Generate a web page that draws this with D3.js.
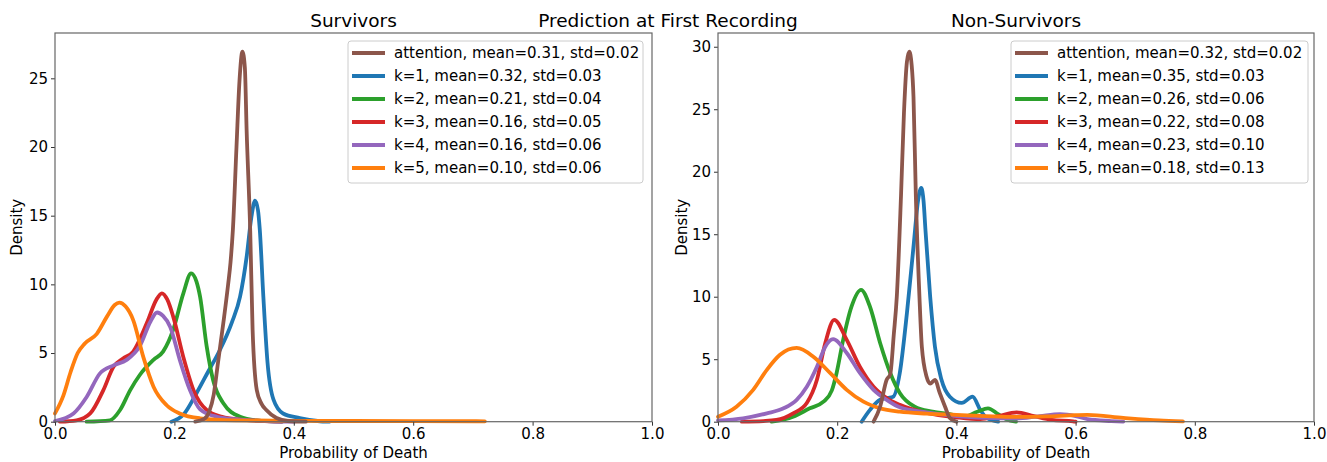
<!DOCTYPE html>
<html>
<head>
<meta charset="utf-8">
<script src="https://cdn.jsdelivr.net/npm/d3@7"></script>
<style>
  body { margin: 0; background: #fff; }
  svg text { font-family: "DejaVu Sans", sans-serif; fill: #000; }
</style>
</head>
<body>
<div id="chart"></div>
<script>
// 标题
var suptitle = "Prediction at First Recording";
var panelTitles = ["Survivors", "Non-Survivors"];
var xTicks = [0, 0.2, 0.4, 0.6, 0.8, 1.0];
var yTicksLeft = [0, 5, 10, 15, 20, 25];
var yTicksRight = [0, 5, 10, 15, 20, 25, 30];
var yMaxLeft = 28.3;
var yMaxRight = 31.1;

var seriesNames = ["attention", "k=1", "k=2", "k=3", "k=4", "k=5"];
var seriesColors = ["#8c564b", "#1f77b4", "#2ca02c", "#d62728", "#9467bd", "#ff7f0e"];
var survStats = [[0.31, 0.02], [0.32, 0.03], [0.21, 0.04], [0.16, 0.05], [0.16, 0.06], [0.10, 0.06]];
var nonSurvStats = [[0.32, 0.02], [0.35, 0.03], [0.26, 0.06], [0.22, 0.08], [0.23, 0.10], [0.18, 0.13]];

// Survivors density curves [x, density]
var survAttention = [[0.235,0],[0.25,0.2],[0.258,0.7],[0.266,2],[0.273,4.3],[0.282,7.2],[0.29,10],[0.294,11.6],[0.298,14],[0.304,20],[0.309,24.8],[0.314,26.95],[0.318,25.8],[0.321,21.2],[0.327,13.9],[0.331,6.7],[0.338,2.3],[0.346,1.3],[0.354,0.85],[0.371,0.27],[0.39,0.05],[0.42,0]];
var survK1 = [[0.195,0],[0.215,0.5],[0.237,2.07],[0.256,3.6],[0.276,5.2],[0.296,7.2],[0.31,9.1],[0.321,12],[0.329,14.9],[0.335,16.1],[0.34,15.4],[0.343,14],[0.349,9.1],[0.356,4.3],[0.366,1.6],[0.382,0.6],[0.41,0.27],[0.44,0.05],[0.46,0]];
var survK2 = [[0.053,0],[0.092,0.1],[0.109,0.85],[0.126,2.3],[0.142,3.4],[0.165,4.5],[0.181,5.1],[0.198,6.7],[0.215,9.35],[0.228,10.8],[0.237,10.2],[0.243,9.1],[0.254,5.5],[0.265,3.0],[0.282,1.34],[0.31,0.36],[0.337,0.1],[0.38,0]];
var survK3 = [[0.008,0],[0.036,0.1],[0.059,0.6],[0.081,2.3],[0.098,4.0],[0.114,4.6],[0.131,5.1],[0.154,7.2],[0.17,8.9],[0.179,9.35],[0.188,8.9],[0.198,7.65],[0.215,4.7],[0.232,2.3],[0.254,0.85],[0.28,0.35],[0.31,0.15],[0.35,0.05],[0.38,0]];
var survK4 = [[0,0.05],[0.031,0.6],[0.053,1.8],[0.075,3.5],[0.098,4.1],[0.12,4.5],[0.142,5.5],[0.16,7.3],[0.171,7.95],[0.181,7.7],[0.193,6.9],[0.209,4.5],[0.226,2.3],[0.243,0.9],[0.271,0.36],[0.31,0.15],[0.36,0.03],[0.4,0]];
var survK5 = [[0,0.6],[0.014,1.9],[0.026,3.6],[0.038,5.0],[0.05,5.7],[0.07,6.4],[0.087,7.65],[0.1,8.5],[0.108,8.67],[0.118,8.4],[0.131,7.4],[0.148,4.7],[0.165,2.55],[0.187,1.2],[0.209,0.6],[0.243,0.25],[0.3,0.1],[0.4,0.06],[0.5,0.05],[0.6,0.04],[0.72,0.03]];

// Non-Survivors density curves [x, density]
var nonAttention = [[0.261,0],[0.272,1.2],[0.283,3.35],[0.289,3.8],[0.295,7],[0.3,10],[0.307,18],[0.312,24.7],[0.317,28.8],[0.321,29.6],[0.325,28.5],[0.328,26],[0.332,18],[0.338,10],[0.342,6.0],[0.35,3.6],[0.356,3.05],[0.364,3.35],[0.372,2.3],[0.381,1.2],[0.389,0.3],[0.4,0]];
var nonK1 = [[0.241,0],[0.255,0.95],[0.272,1.75],[0.285,1.9],[0.294,2.0],[0.305,3.9],[0.317,8.7],[0.328,14.0],[0.336,17.8],[0.341,18.7],[0.345,17.6],[0.348,15.4],[0.356,10],[0.364,6.0],[0.375,3.35],[0.389,2.0],[0.409,1.5],[0.427,2.0],[0.44,0.95],[0.451,0.3],[0.47,0]];
var nonK2 = [[0.09,0],[0.126,0.4],[0.154,1.07],[0.177,1.6],[0.191,2.5],[0.199,3.9],[0.21,6.55],[0.224,9.2],[0.24,10.55],[0.255,9.2],[0.272,6.3],[0.289,3.9],[0.305,2.3],[0.33,1.2],[0.36,0.8],[0.389,0.6],[0.412,0.4],[0.435,0.8],[0.453,1.07],[0.47,0.6],[0.484,0.2],[0.5,0]];
var nonK3 = [[0.04,0],[0.076,0.05],[0.098,0.14],[0.126,0.67],[0.149,1.5],[0.166,3.35],[0.18,6.3],[0.195,8.15],[0.216,6.55],[0.238,4.4],[0.261,2.8],[0.283,1.9],[0.305,1.35],[0.35,0.7],[0.4,0.35],[0.44,0.2],[0.47,0.45],[0.501,0.75],[0.53,0.45],[0.56,0.15],[0.596,0.03],[0.6,0]];
var nonK4 = [[0,0.1],[0.042,0.27],[0.082,0.67],[0.11,1.07],[0.132,1.75],[0.149,2.8],[0.166,4.4],[0.18,6.0],[0.193,6.6],[0.216,5.5],[0.238,3.9],[0.261,2.55],[0.283,1.75],[0.305,1.15],[0.35,0.75],[0.4,0.45],[0.45,0.3],[0.5,0.25],[0.54,0.45],[0.574,0.6],[0.6,0.45],[0.62,0.2],[0.66,0.05],[0.68,0]];
var nonK5 = [[0,0.4],[0.031,1.2],[0.059,2.55],[0.082,4.15],[0.104,5.35],[0.132,5.9],[0.16,5.2],[0.188,3.9],[0.216,2.55],[0.244,1.6],[0.272,1.07],[0.305,0.8],[0.35,0.65],[0.4,0.55],[0.45,0.45],[0.5,0.38],[0.55,0.42],[0.6,0.52],[0.62,0.54],[0.68,0.3],[0.74,0.1],[0.78,0.03]];

var survCurves = [survAttention, survK1, survK2, survK3, survK4, survK5];
var nonCurves = [nonAttention, nonK1, nonK2, nonK3, nonK4, nonK5];

var W = 1327, H = 462;
var svg = d3.select("#chart").append("svg").attr("width", W).attr("height", H);

svg.append("text").attr("x", 668).attr("y", 27).attr("text-anchor", "middle")
    .style("font-size", "18.5px").text(suptitle);

function drawPanel(cfg) {
    var x = d3.scaleLinear().domain([0, 1]).range([cfg.left, cfg.right]);
    var y = d3.scaleLinear().domain([0, cfg.yMax]).range([cfg.bottom, cfg.top]);
    var g = svg.append("g");

    var line = d3.line()
        .x(function (d) { return x(d[0]); })
        .y(function (d) { return y(d[1]); })
        .curve(d3.curveMonotoneX);

    // 曲线，attention 画在最上面
    var order = [1, 2, 3, 4, 5, 0];
    order.forEach(function (i) {
        g.append("path").attr("d", line(cfg.curves[i]))
            .attr("fill", "none").attr("stroke", seriesColors[i])
            .attr("stroke-width", 3.8).attr("stroke-linejoin", "round").attr("stroke-linecap", "round");
    });

    // 坐标轴
    var xAxis = g.append("g").attr("transform", "translate(0," + cfg.bottom + ")")
        .call(d3.axisBottom(x).tickValues(xTicks).tickFormat(d3.format(".1f")).tickSize(4).tickPadding(3));
    var yAxis = g.append("g").attr("transform", "translate(" + cfg.left + ",0)")
        .call(d3.axisLeft(y).tickValues(cfg.yTicks).tickFormat(d3.format("d")).tickSize(4).tickPadding(3));
    [xAxis, yAxis].forEach(function (a) {
        a.select(".domain").remove();
        a.selectAll("text").style("font-size", "15px").attr("font-family", "DejaVu Sans");
        a.selectAll("line").attr("stroke", "#333");
    });

    g.append("rect").attr("x", cfg.left).attr("y", cfg.top)
        .attr("width", cfg.right - cfg.left).attr("height", cfg.bottom - cfg.top)
        .attr("fill", "none").attr("stroke", "#666").attr("stroke-width", 1.2);

    g.append("text").attr("x", (cfg.left + cfg.right) / 2).attr("y", 27)
        .attr("text-anchor", "middle").style("font-size", "18.5px").text(cfg.title);
    g.append("text").attr("x", (cfg.left + cfg.right) / 2).attr("y", 458)
        .attr("text-anchor", "middle").style("font-size", "15px").text("Probability of Death");
    g.append("text").attr("transform", "translate(" + cfg.ylabX + "," + ((cfg.top + cfg.bottom) / 2) + ")rotate(-90)")
        .attr("text-anchor", "middle").style("font-size", "15px").text("Density");

    // 图例
    var lg = g.append("g").attr("transform", "translate(" + cfg.legX + "," + cfg.legY + ")");
    lg.append("rect").attr("x", 0).attr("y", 0).attr("width", cfg.legW).attr("height", 142)
        .attr("rx", 3).attr("fill", "#fff").attr("fill-opacity", 0.8).attr("stroke", "#ccc");
    seriesNames.forEach(function (name, i) {
        var yy = 12 + i * 23;
        lg.append("line").attr("x1", 4).attr("x2", 37).attr("y1", yy).attr("y2", yy)
            .attr("stroke", seriesColors[i]).attr("stroke-width", 3.8);
        lg.append("text").attr("x", 46).attr("y", yy + 5).style("font-size", "15px")
            .text(name + ", mean=" + cfg.stats[i][0].toFixed(2) + ", std=" + cfg.stats[i][1].toFixed(2));
    });
}

drawPanel({left: 55, right: 652, top: 33, bottom: 421.7, yMax: yMaxLeft, yTicks: yTicksLeft,
    curves: survCurves, stats: survStats, title: panelTitles[0], ylabX: 22, legX: 348, legY: 41, legW: 295});
drawPanel({left: 718, right: 1314, top: 33, bottom: 421.7, yMax: yMaxRight, yTicks: yTicksRight,
    curves: nonCurves, stats: nonSurvStats, title: panelTitles[1], ylabX: 687, legX: 1011, legY: 41, legW: 297});
</script>
</body>
</html>
